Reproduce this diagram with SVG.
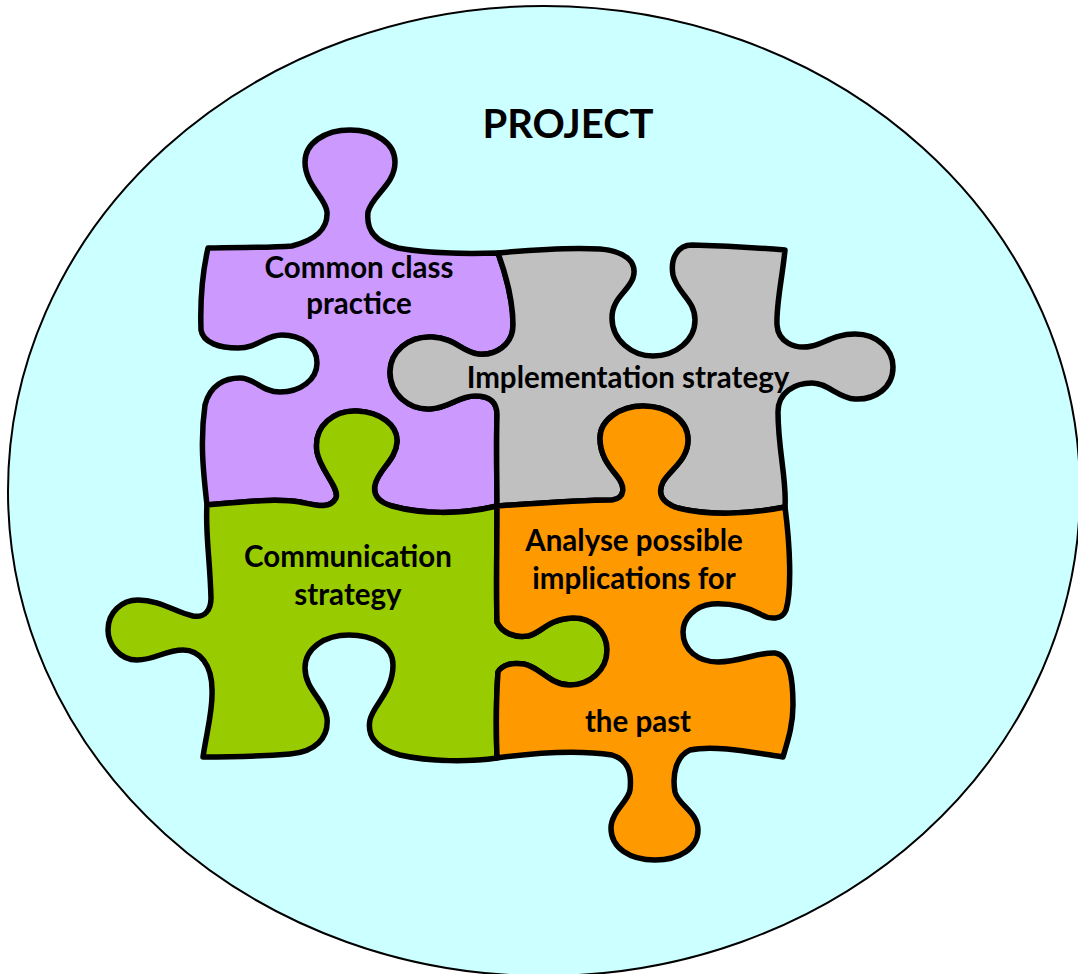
<svg xmlns="http://www.w3.org/2000/svg" width="1078" height="974" viewBox="0 0 1078 974">
<style>
.bg{fill:#CCFFFF;stroke:#000;stroke-width:2}
.pc{stroke:#000;stroke-width:5.5;stroke-linejoin:round}
.t{font-family:Lato,"Liberation Sans",sans-serif;font-weight:bold;font-size:29.5px;fill:#000;text-anchor:middle}
.title{font-family:Lato,"Liberation Sans",sans-serif;font-weight:bold;font-size:40px;fill:#000;text-anchor:middle}
</style>
<rect width="1078" height="974" fill="#fff"/>
<g id="project">
<ellipse class="bg" cx="544" cy="491" rx="536" ry="485"/>
<text class="title" x="568" y="138">PROJECT</text>
</g>
<g id="common-class-practice">
<path class="pc" fill="#CC99FF" d="M208,248 C240,247 270,248 292,246 C315,240 328,230 327,212 C326,198 305,185 305,162 C305,143 325,130 350,130 C375,130 395,143 395,162 C395,185 372,195 368,212 C366,230 375,242 398,248 C430,254 465,254 498,253 C506,275 513,300 513,325 C513,345 495,356 478,354 C462,352 455,338 432,337 C408,336 390,352 390,372 C390,395 410,410 430,409 C450,408 458,396 475,396 C490,396 497,402 497,415 C496,450 497,480 497,506 C460,515 420,514 392,506 C378,502 373,495 375,485 C378,470 396,460 397,442 C398,425 380,412 357,411 C335,410 313,425 317,452 C320,470 340,488 336,498 C330,510 315,505 300,502 C275,498 240,502 207,505 C203,470 200,440 205,405 C210,385 225,378 240,378 C255,378 262,392 280,392 C300,392 317,380 317,363 C317,345 300,335 282,335 C265,335 258,348 238,348 C220,348 203,343 201,330 C200,300 203,270 208,248 Z"/>
<text class="t" x="359" y="278">Common class</text>
<text class="t" x="359" y="314">practice</text>
</g>
<g id="implementation-strategy">
<path class="pc" fill="#C0C0C0" d="M498,253 C530,250 570,247 600,249 C625,251 638,262 633,278 C628,292 612,298 612,318 C612,340 632,356 653,356 C676,356 695,340 695,320 C695,300 677,293 673,275 C670,258 678,245 692,245 C730,246 760,248 785,250 C782,280 776,305 777,325 C778,342 795,350 812,346 C825,343 835,334 855,334 C878,334 893,350 893,367 C893,388 875,400 855,399 C838,398 828,383 812,383 C795,383 778,392 778,412 C778,450 787,480 785,507 C750,514 710,516 678,508 C662,503 657,494 663,482 C670,470 688,460 688,440 C688,420 668,406 643,406 C620,406 600,420 600,438 C600,455 608,465 617,476 C625,486 626,498 612,500 C590,500 540,503 497,506 C497,480 496,450 497,415 C497,402 490,396 475,396 C458,396 450,408 430,409 C410,410 390,395 390,372 C390,352 408,336 432,337 C455,338 462,352 478,354 C495,356 513,345 513,325 C513,300 506,275 498,253 Z"/>
<text class="t" x="628" y="388">Implementation strategy</text>
</g>
<g id="communication-strategy">
<path class="pc" fill="#99CC00" d="M497,758 C470,762 430,762 400,755 C375,748 367,735 370,720 C373,705 393,692 393,665 C393,645 372,635 349,635 C325,635 305,648 305,668 C305,690 325,700 327,718 C329,738 315,752 290,754 C265,756 230,757 203,757 C207,730 213,710 212,690 C212,665 200,650 183,650 C165,650 155,660 137,660 C120,660 108,645 108,630 C108,612 122,600 138,600 C160,600 175,612 193,616 C205,618 211,610 211,598 C210,560 205,530 207,505 C240,502 275,498 300,502 C315,505 330,510 336,498 C340,488 320,470 317,452 C313,425 335,410 357,411 C380,412 398,425 397,442 C396,460 378,470 375,485 C373,495 378,502 392,506 C420,514 460,515 497,506 C497,550 496,590 497,622 C502,633 515,638 528,636 C540,634 548,619 572,618 C592,617 607,632 607,650 C607,670 590,685 570,685 C550,685 540,667 524,664 C512,662 502,665 498,672 C496,700 496,730 497,758 Z"/>
<text class="t" x="348" y="567">Communication</text>
<text class="t" x="348" y="605">strategy</text>
</g>
<g id="analyse-implications">
<path class="pc" fill="#FF9900" d="M785,507 C790,545 792,590 786,610 C782,620 770,620 760,614 C745,606 730,603 712,604 C695,606 683,618 683,632 C683,650 698,662 718,662 C740,662 758,652 775,653 C790,655 793,680 793,705 C793,725 788,740 783,757 C750,752 715,745 690,750 C676,756 672,775 675,792 C678,805 698,812 698,830 C698,848 680,860 655,860 C630,860 611,848 611,828 C611,812 628,802 630,790 C632,772 628,760 612,755 C580,750 540,752 497,758 C496,730 496,700 498,672 C502,665 512,662 524,664 C540,667 550,685 570,685 C590,685 607,670 607,650 C607,632 592,617 572,618 C548,619 540,634 528,636 C515,638 502,633 497,622 C496,590 497,550 497,506 C540,503 590,500 612,500 C626,498 625,486 617,476 C608,465 600,455 600,438 C600,420 620,406 643,406 C668,406 688,420 688,440 C688,460 670,470 663,482 C657,494 662,503 678,508 C710,516 750,514 785,507 Z"/>
<text class="t" x="634" y="551">Analyse possible</text>
<text class="t" x="634" y="589">implications for</text>
<text class="t" x="638" y="732">the past</text>
</g>
</svg>
